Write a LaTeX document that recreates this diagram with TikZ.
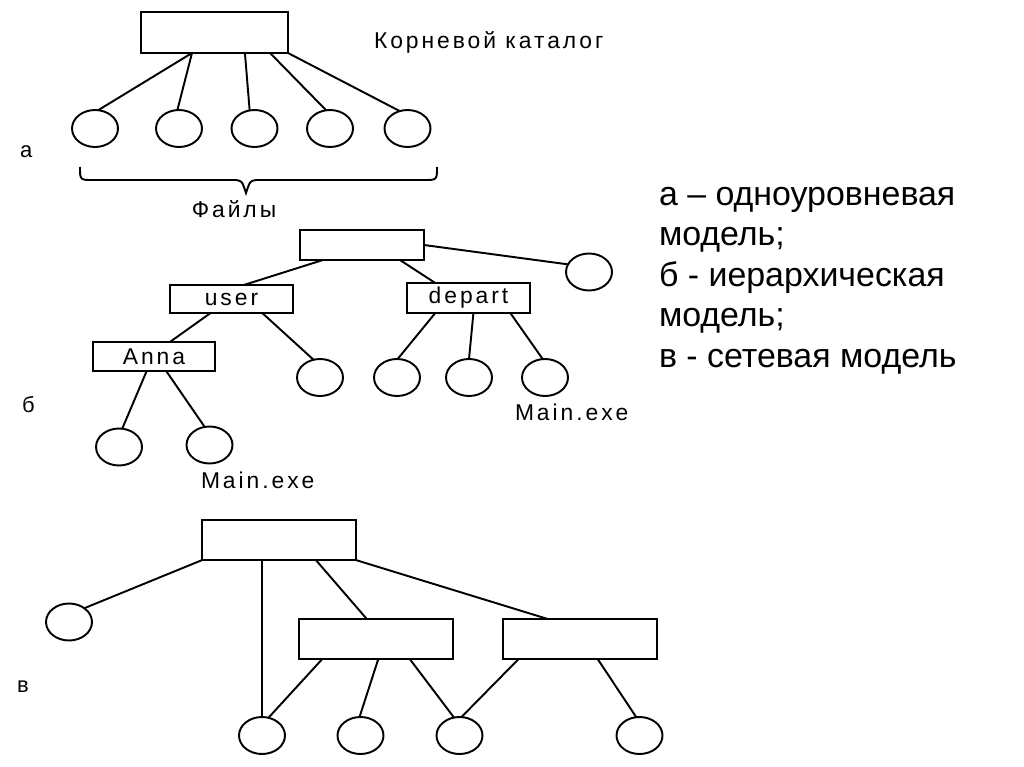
\documentclass[tikz,border=0pt]{standalone}
\usepackage{fontspec}
\setmainfont{Liberation Sans}
\newfontfamily\pixfont[LetterSpace=13]{Liberation Sans}
\usetikzlibrary{shapes.geometric, calc}

\begin{document}
\begin{tikzpicture}[
  x=0.02cm, y=-0.02cm,
  every node/.style={inner sep=0pt, outer sep=0pt},
  dir/.style    = {draw, line width=1.1pt, minimum width=2.46cm, minimum height=0.58cm, font=\pixfont\fontsize{13}{15}\selectfont},
  bigdir/.style = {dir, minimum width=3.07cm, minimum height=0.8cm},
  leaf/.style   = {draw, line width=1.1pt, ellipse, minimum width=0.92cm, minimum height=0.74cm},
  link/.style   = {line width=1.1pt},
  txt/.style    = {font=\pixfont\fontsize{13}{15}\selectfont},
  tag/.style    = {font=\fontsize{12.5}{14}\selectfont, anchor=base west},
  legend/.style = {font=\fontsize{19.3}{23}\selectfont, anchor=base west},
]
  \useasboundingbox (0,0) rectangle (1024,767);

  % a: single level
  \node[bigdir, minimum width=2.94cm, minimum height=0.82cm] (ra) at (214.5,32.5) {};
  \node[txt, anchor=base west] (rlab) at (374,49) {Корневой каталог};
  \foreach \n/\x in {1/95,2/179,3/254.5,4/330,5/407.5}
    \node[leaf] (e\n) at (\x,128.5) {};
  \foreach \f/\n/\a in {.347/1/80, .347/2/95, .707/3/105, .878/4/102, 1/5/114}
    \draw[link] ($(ra.south west)!\f!(ra.south east)$) -- (e\n.\a);
  \draw[link] (80,167) .. controls (80,180) .. (93,180) -- (236,180)
    .. controls (242,181) .. (246,193) .. controls (250,181) .. (256,180)
    -- (424,180) .. controls (437,180) .. (437,167);
  \node[txt, anchor=base] (files) at (234,217) {Файлы};
  \node[tag] (la) at (20,157) {а};

  % b: hierarchy
  \node[dir, minimum width=2.48cm, minimum height=0.6cm] (rb) at (362,245) {};
  \node[leaf] (bx) at (589,272) {};
  \node[dir, minimum height=0.56cm] (user) at (231.5,299) {user};
  \node[dir, minimum height=0.6cm]  (dep)  at (468.5,298) {depart};
  \node[dir, minimum width=2.44cm]  (anna) at (154,356.5) {Anna};
  \node[leaf] (c1) at (320,377.5) {};
  \foreach \n/\x in {1/397,2/469,3/545}
    \node[leaf] (d\n) at (\x,377.5) {};
  \node[leaf] (a1) at (119,447) {};
  \node[leaf] (a2) at (209.5,445) {};
  \draw[link] (rb.east) -- (bx.160);
  \draw[link] ($(rb.south west)!.185!(rb.south east)$) -- ($(user.north west)!.6!(user.north east)$);
  \draw[link] ($(rb.south west)!.806!(rb.south east)$) -- ($(dep.north west)!.23!(dep.north east)$);
  \draw[link] ($(user.south west)!.33!(user.south east)$) -- ($(anna.north west)!.63!(anna.north east)$);
  \draw[link] ($(user.south west)!.75!(user.south east)$) -- (c1.110);
  \foreach \f/\n/\a in {.23/1/88, .54/2/90, .84/3/97}
    \draw[link] ($(dep.south west)!\f!(dep.south east)$) -- (d\n.\a);
  \draw[link] ($(anna.south west)!.44!(anna.south east)$) -- (a1.80);
  \draw[link] ($(anna.south west)!.6!(anna.south east)$) -- (a2.105);
  \node[txt, anchor=base west] (exe1) at (515,420) {Main.exe};
  \node[txt, anchor=base west] (exe2) at (201,488) {Main.exe};
  \node[tag] (lb) at (22,412) {б};

  % v: network
  \node[bigdir] (rc) at (279,540) {};
  \node[bigdir] (n1) at (376,639) {};
  \node[bigdir] (n2) at (580,639) {};
  \node[leaf] (cl) at (69,622) {};
  \foreach \n/\x in {1/262,2/360.5,3/459.5,4/639.5}
    \node[leaf] (v\n) at (\x,735.5) {};
  \draw[link] (rc.south west) -- (cl.42);
  \draw[link] (rc.south -| v1.north) -- (v1.north);
  \draw[link] ($(rc.south west)!.74!(rc.south east)$) -- ($(n1.north west)!.44!(n1.north east)$);
  \draw[link] (rc.south east) -- ($(n2.north west)!.29!(n2.north east)$);
  \foreach \b/\f/\n/\a in {n1/.15/1/70, n1/.515/2/93, n1/.72/3/107, n2/.1/3/84, n2/.615/4/100}
    \draw[link] ($(\b.south west)!\f!(\b.south east)$) -- (v\n.\a);
  \node[tag] (lv) at (17,692) {в};

  % legend
  \foreach \t [count=\i] in {а – одноуровневая, модель;, б - иерархическая, модель;, в - сетевая модель}
    \node[legend] (m\i) at (659,{164.5+40.5*\i}) {\t};
\end{tikzpicture}
\end{document}
